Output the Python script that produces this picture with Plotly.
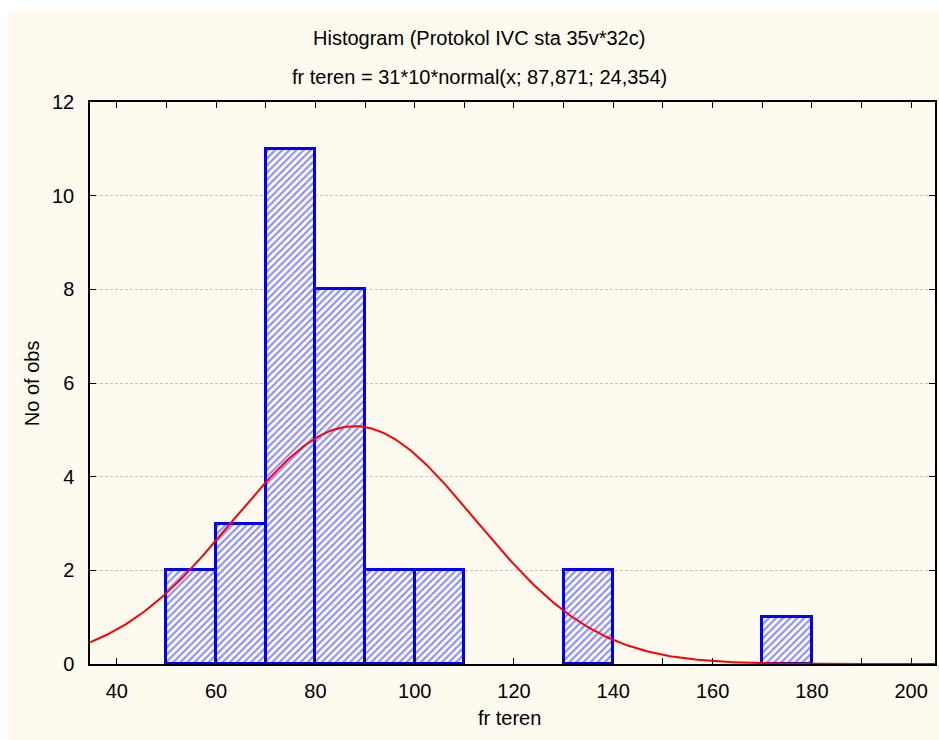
import numpy as np
import plotly.graph_objects as go

# Histogram data (bin lower edges, width 10)
bin_left = [50, 60, 70, 80, 90, 100, 130, 170]
counts = [2, 3, 11, 8, 2, 2, 2, 1]
bin_width = 10

# Fitted normal curve parameters (from the chart subtitle)
n_obs = 31
mean = 87.871
sd = 24.354

x_ticks = [40, 50, 60, 70, 80, 90, 100, 110, 120, 130, 140, 150, 160, 170, 180, 190, 200]
x_tick_text = ["40", "", "60", "", "80", "", "100", "", "120", "", "140", "", "160", "", "180", "", "200"]
y_ticks = [0, 2, 4, 6, 8, 10, 12]

title1 = "Histogram (Protokol IVC sta 35v*32c)"
title2 = "fr teren = 31*10*normal(x; 87,871; 24,354)"
x_title = "fr teren"
y_title = "No of obs"

xr = [34.6, 204.8]
xs = np.linspace(xr[0], xr[1], 400)
ys = n_obs * bin_width * np.exp(-0.5 * ((xs - mean) / sd) ** 2) / (sd * np.sqrt(2 * np.pi))

centers = [b + bin_width / 2 for b in bin_left]

FONT = "Liberation Sans, Arial, sans-serif"

fig = go.Figure()
fig.add_trace(go.Bar(
    x=centers, y=counts, width=bin_width,
    marker=dict(
        color="white",
        line=dict(color="#0000FF", width=3),
        pattern=dict(shape="/", fgcolor="#2020FF", bgcolor="white", size=5, solidity=0.45),
    ),
    hoverinfo="skip", showlegend=False,
))
fig.add_trace(go.Scatter(
    x=xs, y=ys, mode="lines", line=dict(color="#FF0000", width=2),
    hoverinfo="skip", showlegend=False,
))

W, H = 939, 740
L, R, T, B = 90, 2, 102, 76
pw = W - L - R
ph = H - T - B

def px_x(p):
    return (p - L) / pw

def px_y(p):
    return (H - B - p) / ph

fig.add_shape(type="rect", xref="paper", yref="paper",
              x0=px_x(8), x1=px_x(945), y0=px_y(11), y1=px_y(750),
              fillcolor="#FEFAF0", line=dict(width=0), layer="below")

fig.add_annotation(text=title1, xref="paper", yref="paper", x=px_x(480), y=px_y(38),
                   showarrow=False, font=dict(family=FONT, size=20, color="black"),
                   xanchor="center", yanchor="middle")
fig.add_annotation(text=title2, xref="paper", yref="paper", x=px_x(480), y=px_y(77),
                   showarrow=False, font=dict(family=FONT, size=20, color="black"),
                   xanchor="center", yanchor="middle")
fig.add_annotation(text=x_title, xref="paper", yref="paper", x=px_x(510), y=px_y(718),
                   showarrow=False, font=dict(family=FONT, size=20, color="black"),
                   xanchor="center", yanchor="middle")
fig.add_annotation(text=y_title, xref="paper", yref="paper", x=px_x(32), y=px_y(383),
                   showarrow=False, textangle=-90, font=dict(family=FONT, size=20, color="black"),
                   xanchor="center", yanchor="middle")

fig.update_layout(
    width=W, height=H,
    margin=dict(l=L, r=R, t=T, b=B, pad=0),
    paper_bgcolor="white", plot_bgcolor="white",
    font=dict(family=FONT, size=20, color="black"),
    bargap=0,
    xaxis=dict(range=xr, tickvals=x_ticks, ticktext=x_tick_text, ticks="inside", ticklen=6,
               tickcolor="black", showline=True, linecolor="black", linewidth=1.5,
               mirror="ticks", showgrid=False, zeroline=False, ticklabelstandoff=8),
    yaxis=dict(range=[0, 12], tickvals=y_ticks, ticks="inside", ticklen=6, tickcolor="black",
               showline=True, linecolor="black", linewidth=1.5, mirror="ticks",
               showgrid=True, gridcolor="#C4C4C4", griddash="3px,2px", gridwidth=1,
               zeroline=False, ticklabelstandoff=10),
)

fig.write_html("out.html")
